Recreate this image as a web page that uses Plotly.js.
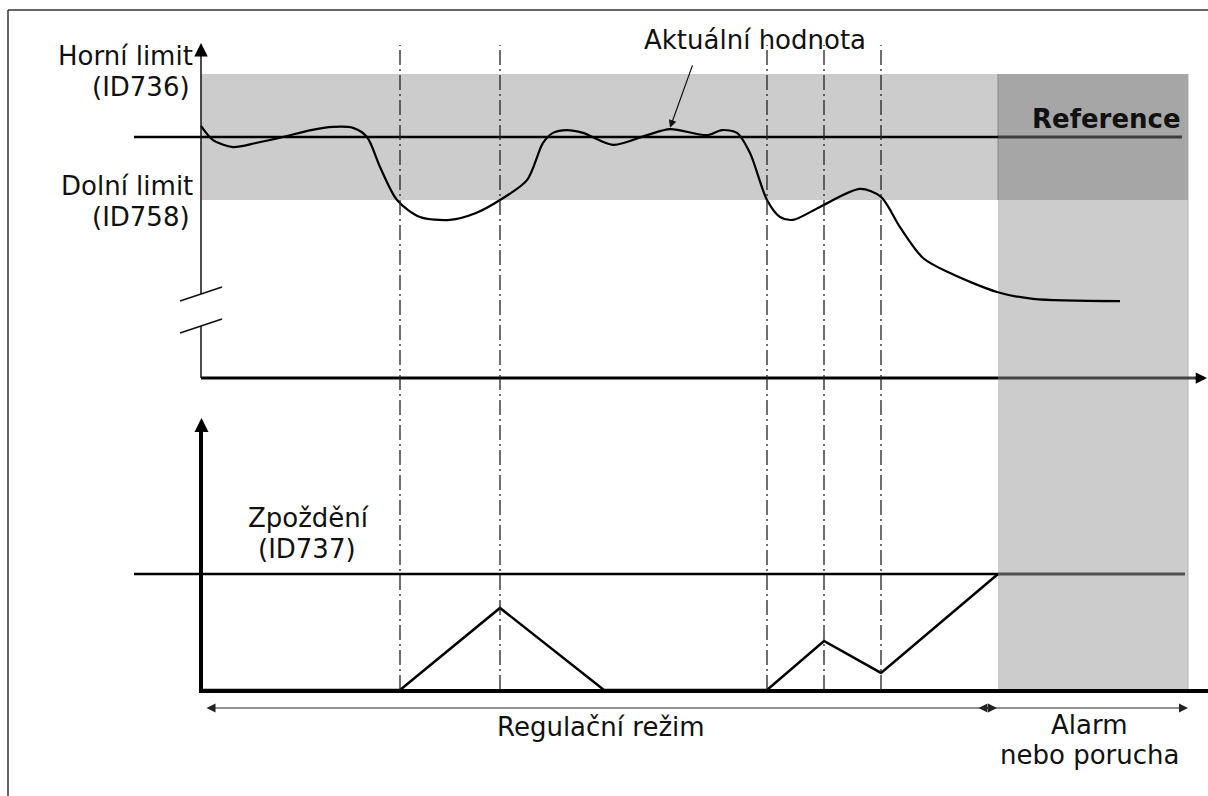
<!DOCTYPE html>
<html><head><meta charset="utf-8">
<script src="https://cdn.plot.ly/plotly-3.0.1.min.js"></script>
<style>html,body{margin:0;padding:0;background:#fff}#chart{width:1208px;height:796px}</style>
</head><body><div id="chart"></div>
<script>
// ---------- data (time in arbitrary units, values in % of process range) ----------
const timeActual = [0,1.2,3.2,5.5,8.2,11,13.2,15.2,16.6,17.9,19.6,21.9,24.9,27.5,29.9,32.6,34.2,35.2,36.6,38.2,41.2,44.6,46.9,50.6,52.1,53.6,54.9,56.6,57.9,59.2,61.9,65.9,68,69.9,72.2,74.9,79.6,83.2,91.9];
const actualValue = [53.5,49.0,46.8,48.1,50,52.2,53.2,52.9,50,40.5,30,24.6,23.7,25.9,30,36.3,48.1,51.3,52.2,51.3,47.5,50.6,52.5,50.6,52.2,51.3,44.9,30,24.6,23.7,27.8,33.5,31,21.4,11.6,6.8,0.8,-1.4,-2.1];
const timeDelay = [0,19.9,29.9,40.3,56.6,62.3,68,79.7];
const delayValue = [0,0,70.7,0,0,42.2,14.7,100];
const timeHold = [79.7,98.4];
const delayHold = [100,100];
const eventTimes = [19.9,29.9,56.6,62.3,68];
const upperLimit = 70, lowerLimit = 30, referenceValue = 50, delayLimit = 100;
const alarmStart = 79.7, alarmEnd = 98.7, axisOrigin = -26.5;
const labels = {
  actual: 'Aktuální hodnota', upper1: 'Horní limit', upper2: '(ID736)',
  lower1: 'Dolní limit', lower2: '(ID758)', ref: 'Reference',
  delay1: 'Zpoždění', delay2: '(ID737)', mode: 'Regulační režim',
  alarm1: 'Alarm', alarm2: 'nebo porucha'
};

// ---------- layout helpers (decoration only) ----------
const W = 1208, H = 796;
const PX = p => p / W;
const PY = p => 1 - p / H;
const FONT = {family: 'DejaVu Sans, Verdana, sans-serif', size: 26, color: '#111'};

const traces = [
  {x: timeActual, y: actualValue, type: 'scatter', mode: 'lines', yaxis: 'y',
   line: {color: '#000', width: 2.2, shape: 'spline', smoothing: 0.8}, hoverinfo: 'skip'},
  {x: timeDelay, y: delayValue, type: 'scatter', mode: 'lines', yaxis: 'y2',
   line: {color: '#000', width: 2.5}, hoverinfo: 'skip'},
  {x: timeHold, y: delayHold, type: 'scatter', mode: 'lines', yaxis: 'y2',
   line: {color: '#505050', width: 3}, hoverinfo: 'skip'}
];

const shapes = [];
// band between limits
shapes.push({type: 'rect', xref: 'x', yref: 'y', x0: 0, x1: alarmStart, y0: lowerLimit, y1: upperLimit,
  fillcolor: '#cccccc', line: {width: 0}, layer: 'below'});
// alarm region
shapes.push({type: 'rect', xref: 'x', yref: 'paper', x0: alarmStart, x1: alarmEnd, y0: PY(689), y1: PY(74),
  fillcolor: '#cccccc', line: {width: 0}, layer: 'below'});
shapes.push({type: 'rect', xref: 'x', yref: 'y', x0: alarmStart, x1: alarmEnd, y0: lowerLimit, y1: upperLimit,
  fillcolor: '#a6a6a6', line: {width: 0}, layer: 'below'});
shapes.push({type: 'line', xref: 'x', yref: 'y', x0: alarmStart, x1: alarmStart, y0: lowerLimit, y1: upperLimit,
  line: {color: '#8a8a8a', width: 1}, layer: 'below'});
shapes.push({type: 'line', xref: 'x', yref: 'paper', x0: alarmEnd, x1: alarmEnd, y0: PY(689), y1: PY(74),
  line: {color: '#b4b4b4', width: 1}, layer: 'below'});
// reference line
shapes.push({type: 'line', xref: 'x', yref: 'y', x0: -6.7, x1: alarmStart, y0: referenceValue, y1: referenceValue,
  line: {color: '#000', width: 2.5}});
shapes.push({type: 'line', xref: 'x', yref: 'y', x0: alarmStart, x1: 98.1, y0: referenceValue, y1: referenceValue,
  line: {color: '#3d3d3d', width: 3}});
// top x axis
shapes.push({type: 'line', xref: 'x', yref: 'y', x0: 0, x1: alarmStart, y0: axisOrigin, y1: axisOrigin,
  line: {color: '#000', width: 3}});
shapes.push({type: 'line', xref: 'x', yref: 'y', x0: alarmStart, x1: 100, y0: axisOrigin, y1: axisOrigin,
  line: {color: '#444', width: 3}});
// top y axis with break
shapes.push({type: 'line', xref: 'x', yref: 'paper', x0: 0, x1: 0, y0: PY(294), y1: PY(50),
  line: {color: '#111', width: 1.5}});
shapes.push({type: 'line', xref: 'x', yref: 'paper', x0: 0, x1: 0, y0: PY(378), y1: PY(326),
  line: {color: '#111', width: 1.5}});
shapes.push({type: 'line', xref: 'paper', yref: 'paper', x0: PX(180), x1: PX(222), y0: PY(301), y1: PY(287),
  line: {color: '#111', width: 1.5}});
shapes.push({type: 'line', xref: 'paper', yref: 'paper', x0: PX(180), x1: PX(222), y0: PY(333), y1: PY(319),
  line: {color: '#111', width: 1.5}});
// bottom axes
shapes.push({type: 'line', xref: 'x', yref: 'y2', x0: 0, x1: 0, y0: -1, y1: 226,
  line: {color: '#000', width: 4}});
shapes.push({type: 'line', xref: 'x', yref: 'y2', x0: -0.2, x1: 100.7, y0: -0.8, y1: -0.8,
  line: {color: '#000', width: 4}});
// delay limit line
shapes.push({type: 'line', xref: 'x', yref: 'y2', x0: -6.7, x1: alarmStart, y0: delayLimit, y1: delayLimit,
  line: {color: '#000', width: 2.5}});
// event lines (dash-dot)
eventTimes.forEach(t => shapes.push({type: 'line', xref: 'x', yref: 'paper', x0: t, x1: t, y0: PY(690), y1: PY(45),
  line: {color: '#222', width: 1.3, dash: '15px,4px,2px,4px'}}));
// frame
shapes.push({type: 'line', xref: 'paper', yref: 'paper', x0: PX(8), x1: PX(8), y0: 0, y1: PY(10),
  line: {color: '#333', width: 1.5}});
shapes.push({type: 'line', xref: 'paper', yref: 'paper', x0: PX(8), x1: 1, y0: PY(10), y1: PY(10),
  line: {color: '#333', width: 1.5}});

const ann = [];
function txt(text, x, y, xanchor, extra) {
  ann.push(Object.assign({text: text, xref: 'paper', yref: 'paper', x: PX(x), y: PY(y),
    xanchor: xanchor, yanchor: 'middle', showarrow: false, font: FONT}, extra || {}));
}
txt(labels.actual, 755, 40, 'center');
txt(labels.upper1, 195, 56, 'right');
txt(labels.upper2, 192, 87, 'right');
txt(labels.lower1, 195, 186, 'right');
txt(labels.lower2, 192, 217, 'right');
txt('<b>' + labels.ref + '</b>', 1183, 119, 'right');
txt(labels.delay1, 308, 518, 'center');
txt(labels.delay2, 307, 549, 'center');
txt(labels.mode, 601, 727, 'center');
txt(labels.alarm1, 1089, 725, 'center');
txt(labels.alarm2, 1089, 755, 'center');

function arrow(x, y, ax, ay, w, size, side, color) {
  ann.push({text: '', xref: 'paper', yref: 'paper', x: PX(x), y: PY(y), ax: ax, ay: ay,
    showarrow: true, arrowhead: 2, arrowsize: size, arrowwidth: w, arrowcolor: color || '#000',
    arrowside: side || 'end', standoff: 0, startstandoff: 0});
}
// axis arrowheads
arrow(201, 43, 0, 12, 1.5, 1.8);
arrow(1208, 378, -14, 0, 3, 0.75);
arrow(201.5, 418, 0, 14, 3.5, 0.8);
// pointer to actual value
ann.push({text: '', xref: 'x', yref: 'y', x: 46.9, y: 52.9, ax: 23, ay: -64, showarrow: true,
  arrowhead: 2, arrowsize: 1.3, arrowwidth: 1.2, arrowcolor: '#111', standoff: 0});
// mode arrows
arrow(997, 708, -792, 0, 1, 1.8, 'end+start', '#222');
arrow(1188, 708, -211, 0, 1, 1.8, 'end+start', '#222');

const layout = {
  width: W, height: H, margin: {l: 0, r: 0, t: 0, b: 0},
  paper_bgcolor: '#fff', plot_bgcolor: '#fff', showlegend: false,
  xaxis: {range: [-20.1, 100.7], visible: false, fixedrange: true},
  yaxis: {range: [-159.2, 93.49], visible: false, fixedrange: true},
  yaxis2: {range: [-91.4, 594.8], visible: false, fixedrange: true, overlaying: 'y'},
  shapes: shapes, annotations: ann
};
Plotly.newPlot('chart', traces, layout, {staticPlot: true, displayModeBar: false});
</script>
</body></html>
